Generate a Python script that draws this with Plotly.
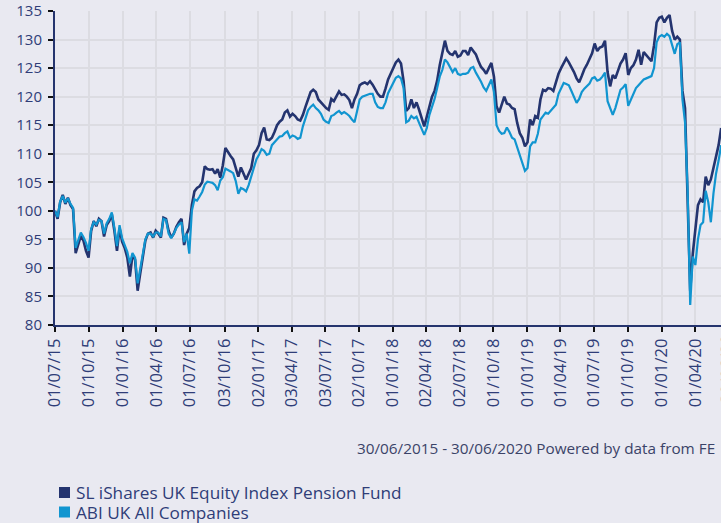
import pandas as pd
import plotly.graph_objects as go

# ---------------- data (weekly readings, start 01/07/2015) ----------------
start_date = "2015-07-01"

fund_name = "SL iShares UK Equity Index Pension Fund"
sector_name = "ABI UK All Companies"

fund = [
    100.0, 98.6, 101.5, 102.8, 101.2, 102.3, 101.0, 100.3, 92.6, 94.0,
    95.6, 94.8, 93.0, 91.8, 96.5, 98.2, 97.3, 98.6, 98.2, 95.5,
    97.5, 98.2, 99.4, 96.5, 93.0, 97.0, 94.6, 93.5, 91.8, 88.5,
    92.2, 91.5, 86.0, 89.0, 91.8, 94.8, 96.0, 96.2, 95.3, 96.5,
    96.0, 95.3, 98.8, 98.6, 96.5, 95.3, 96.0, 97.2, 98.0, 98.6,
    94.0, 96.0, 97.0, 101.0, 103.4, 104.0, 104.3, 105.0, 107.8, 107.3,
    107.2, 107.3, 106.5, 107.3, 105.8, 108.0, 111.0, 110.2, 109.6, 109.0,
    107.5, 106.0, 107.6, 106.5, 105.5, 106.5, 107.5, 110.0, 110.6, 111.5,
    113.6, 114.6, 112.5, 112.4, 112.8, 113.8, 115.0, 115.6, 116.0, 117.2,
    117.6, 116.5, 117.0, 116.6, 116.0, 115.8, 116.8, 118.2, 119.6, 120.8,
    121.2, 120.8, 119.5, 119.0, 118.5, 118.0, 117.7, 119.6, 119.2, 120.0,
    120.9, 120.3, 120.4, 120.0, 119.4, 118.0, 119.5, 120.5, 122.0, 122.3,
    122.5, 122.2, 122.7, 122.1, 121.2, 120.5, 120.0, 120.0, 121.4, 123.0,
    124.0, 125.0, 126.0, 126.5, 125.8, 122.7, 117.5, 118.0, 119.5, 118.0,
    119.0, 117.7, 116.0, 114.8, 116.5, 118.5, 120.0, 121.0, 122.8, 125.5,
    128.0, 129.8, 128.0, 127.5, 127.3, 128.0, 127.0, 127.2, 128.0, 128.0,
    127.3, 128.6, 128.0, 127.4, 126.2, 125.2, 124.7, 124.0, 125.0, 125.9,
    123.5, 118.3, 117.2, 118.5, 120.0, 118.8, 118.6, 118.0, 117.8, 115.4,
    113.6, 112.8, 111.3, 112.0, 116.0, 115.0, 116.6, 116.3, 119.5, 121.2,
    121.0, 121.5, 121.4, 121.0, 122.7, 124.0, 125.0, 125.9, 126.7, 126.0,
    125.2, 124.3, 123.2, 122.5, 123.6, 124.8, 125.6, 126.5, 127.6, 129.3,
    128.0, 128.6, 128.8, 129.8, 124.3, 121.8, 123.8, 123.2, 124.5, 125.8,
    126.5, 127.6, 123.8, 125.0, 125.5, 126.5, 128.2, 125.6, 127.8, 127.2,
    126.8, 126.2, 129.0, 133.0, 133.8, 134.0, 133.0, 133.8, 134.3, 131.5,
    130.0, 130.5, 130.0, 121.0, 118.0, 104.0, 86.0, 92.5, 97.0, 101.0,
    102.0, 101.5, 106.0, 104.5, 105.5, 107.5, 109.5, 111.5, 114.5,
]

sector = [
    100.0, 98.9, 101.6, 102.6, 101.4, 102.2, 101.2, 100.5, 93.5, 95.0,
    96.2, 95.4, 94.4, 93.0, 96.8, 98.0, 97.6, 98.4, 98.2, 96.0,
    97.8, 98.6, 99.7, 97.0, 93.8, 97.5, 95.2, 94.0, 92.8, 90.8,
    92.6, 91.8, 87.3, 89.8, 92.4, 95.0, 96.0, 96.0, 95.5, 96.2,
    96.2, 95.5, 98.6, 98.4, 96.0, 95.2, 96.0, 97.0, 97.6, 98.0,
    94.5, 96.0, 92.5, 100.0, 102.0, 101.8, 102.5, 103.3, 104.6, 105.1,
    105.0, 104.9, 104.5, 103.6, 105.3, 105.9, 107.4, 107.2, 106.9, 106.6,
    105.2, 103.0, 104.0, 103.8, 103.4, 104.5, 106.0, 107.8, 109.0, 109.8,
    110.8, 110.5, 109.8, 110.0, 111.5, 112.0, 112.6, 113.0, 113.1, 113.6,
    113.9, 112.8, 113.2, 113.0, 112.6, 112.8, 114.8, 116.4, 117.6, 118.2,
    118.6, 118.0, 117.6, 117.0, 116.0, 115.6, 115.4, 116.6, 116.8, 117.2,
    117.5, 117.0, 117.3, 117.0, 116.6, 116.0, 115.5, 117.5, 119.5, 120.0,
    120.2, 120.3, 120.5, 120.5, 119.0, 118.2, 118.0, 118.0, 119.0, 120.6,
    121.6, 122.6, 123.3, 123.6, 123.2, 121.5, 115.5, 115.8, 116.6, 116.2,
    116.5, 115.4, 114.3, 113.3, 114.5, 116.8, 118.2, 119.6, 121.5, 123.5,
    124.7, 126.5, 126.0, 125.0, 124.3, 125.0, 124.0, 123.8, 124.0, 124.0,
    124.2, 125.0, 125.2, 124.2, 123.5, 122.6, 121.6, 121.0, 122.0, 123.0,
    120.8, 115.0, 114.0, 113.5, 113.6, 114.6, 113.8, 112.8, 112.5, 111.2,
    109.8, 108.5, 107.0, 107.5, 111.3, 112.0, 112.0, 113.5, 116.0, 116.6,
    117.2, 117.0, 117.5, 118.0, 118.6, 120.5, 121.6, 122.4, 122.2, 122.0,
    121.0, 120.0, 118.9, 119.6, 120.8, 121.4, 121.8, 122.3, 123.2, 123.4,
    122.8, 123.0, 123.5, 124.2, 119.2, 118.0, 116.8, 118.0, 119.5, 121.2,
    121.6, 122.2, 118.4, 119.5, 120.6, 121.5, 122.0, 122.5, 123.0, 123.2,
    123.4, 123.6, 125.0, 129.5, 130.5, 130.8, 130.5, 131.0, 130.6, 129.0,
    127.5, 129.2, 129.5, 119.5, 115.5, 103.5, 83.5, 92.0, 90.5, 95.0,
    97.5, 98.0, 103.5, 101.5, 98.0, 103.0, 106.5, 108.8, 111.5,
]

tick_dates = [
    "2015-07-01", "2015-10-01", "2016-01-01", "2016-04-01", "2016-07-01",
    "2016-10-03", "2017-01-02", "2017-04-03", "2017-07-03", "2017-10-02",
    "2018-01-01", "2018-04-02", "2018-07-02", "2018-10-01", "2019-01-01",
    "2019-04-01", "2019-07-01", "2019-10-01", "2020-01-01", "2020-04-01",
]
tick_labels = [
    "01/07/15", "01/10/15", "01/01/16", "01/04/16", "01/07/16",
    "03/10/16", "02/01/17", "03/04/17", "03/07/17", "02/10/17",
    "01/01/18", "02/04/18", "02/07/18", "01/10/18", "01/01/19",
    "01/04/19", "01/07/19", "01/10/19", "01/01/20", "01/04/20",
]
last_tick_label = "30/06/20"
y_ticks = [80, 85, 90, 95, 100, 105, 110, 115, 120, 125, 130, 135]
footnote = "30/06/2015 - 30/06/2020 Powered by data from FE"

# ---------------- styling ----------------
BG = "#e9e9f1"
GRID = "#dcdce2"
AXIS = "#25346e"
TEXT = "#2f3d78"
DARK = "#24346f"
LIGHT = "#1195d0"
FONT = "Open Sans"

W, H = 721, 523
ML, MR, MT, MB = 55, 0, 11, 198
PW, PH = W - ML - MR, H - MT - MB


def px_x(x):
    return (x - ML) / PW


def px_y(y):
    return (H - MB - y) / PH


dates = pd.date_range(start=start_date, periods=len(fund), freq="7D")

fig = go.Figure()
fig.add_trace(go.Scatter(x=dates, y=fund, mode="lines", name=fund_name,
                         line=dict(color=DARK, width=2.6), showlegend=False,
                         hoverinfo="skip"))
fig.add_trace(go.Scatter(x=dates, y=sector, mode="lines", name=sector_name,
                         line=dict(color=LIGHT, width=2.2), showlegend=False,
                         hoverinfo="skip"))

fig.update_layout(
    width=W, height=H,
    margin=dict(l=ML, r=MR, t=MT, b=MB, pad=0),
    paper_bgcolor=BG, plot_bgcolor=BG,
    font=dict(family=FONT, color=TEXT),
    showlegend=False,
)
fig.update_xaxes(
    type="date",
    range=["2015-07-01", "2020-06-09 12:00"],
    tickvals=tick_dates, ticktext=tick_labels, tickangle=-90,
    ticks="outside", ticklen=5, tickwidth=2, tickcolor="#111111",
    showline=True, linecolor=AXIS, linewidth=2,
    showgrid=True, gridcolor=GRID, gridwidth=2, zeroline=False,
    tickfont=dict(size=16.5, color=TEXT, family=FONT),
)
fig.update_yaxes(
    range=[80, 135], tickvals=y_ticks,
    ticks="outside", ticklen=5, tickwidth=2, tickcolor="#111111",
    showline=True, linecolor=AXIS, linewidth=2,
    showgrid=True, gridcolor=GRID, gridwidth=2, zeroline=False,
    tickfont=dict(size=15, color=TEXT, family=FONT),
    ticklabelstandoff=3,
)

annotations = [
    dict(text=last_tick_label, xref="paper", yref="paper",
         x=px_x(726), y=px_y(333), xanchor="center", yanchor="top",
         textangle=-90, showarrow=False,
         font=dict(size=16.5, color=TEXT, family=FONT)),
    dict(text=footnote, xref="paper", yref="paper",
         x=px_x(717), y=px_y(447.5), xanchor="right", yanchor="middle",
         showarrow=False, font=dict(size=15.3, color="#3b4368", family=FONT)),
]
shapes = []
legend_rows = [(fund_name, DARK, 492.5, 492.0), (sector_name, LIGHT, 512.0, 512.0)]
for name, col, ysq, ytxt in legend_rows:
    shapes.append(dict(type="rect", xref="paper", yref="paper",
                       x0=px_x(59), x1=px_x(70), y0=px_y(ysq + 5.5), y1=px_y(ysq - 5.5),
                       fillcolor=col, line=dict(width=0)))
    annotations.append(dict(text=name, xref="paper", yref="paper",
                            x=px_x(75), y=px_y(ytxt), xanchor="left", yanchor="middle",
                            showarrow=False, borderpad=0,
                            font=dict(size=17.2, color=TEXT, family=FONT)))

fig.update_layout(annotations=annotations, shapes=shapes)

fig.write_html(
    "out.html",
    config={"displayModeBar": False, "staticPlot": True},
    post_script="document.body.style.margin='0';document.body.style.overflow='hidden';"
                "document.documentElement.style.overflow='hidden';",
)
